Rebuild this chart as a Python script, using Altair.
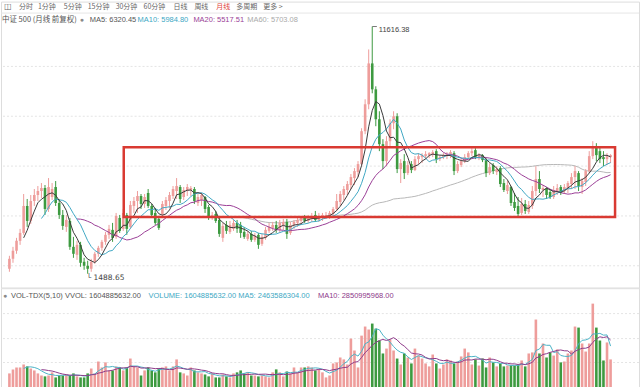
import altair as alt
import pandas as pd

# ---------------- data (monthly candles, CSI 500) ----------------
opens = [1692, 2100, 2427, 2836, 3162, 4265, 3652, 4469, 4714, 4877,
         5000, 4142, 4632, 5041, 4387, 3897, 3407, 3652, 2590, 2264,
         2672, 1978, 1815, 1692, 1978, 2305, 2550, 2795, 3081, 3285,
         2999, 3775, 3326, 3897, 3407, 4265, 4469, 4673, 4347, 4796,
         4265, 3979, 3734, 3938, 4265, 4469, 4673, 4877, 5041, 4632,
         4877, 4918, 4959, 4387, 4510, 4632, 4224, 3775, 3938, 3693,
         2958, 3489, 3203, 3326, 3571, 3489, 3203, 2917, 3121, 2876,
         3081, 2713, 2958, 3244, 3366, 3489, 3285, 3489, 3612, 3162,
         3489, 3571, 3652, 3816, 3652, 3734, 3897, 3693, 3816, 3857,
         3857, 3938, 4142, 4428, 4714, 4918, 5122, 5408, 5653, 5980,
         7328, 8430, 10105, 9043, 7818, 6797, 6103, 6919, 7655, 7940,
         5776, 6103, 5612, 5980, 5735, 6184, 6266, 6307, 6348, 6388,
         6511, 6184, 6266, 6307, 6388, 6429, 5694, 5939, 6103, 6266,
         6429, 6552, 6225, 6348, 6143, 5612, 5939, 5653, 5817, 5204,
         4877, 5041, 4428, 4265, 3979, 4347, 4020, 4265, 4877, 5368,
         4918, 5000, 4837, 4632, 4877, 5041, 4877, 5000, 5163, 5449,
         5612, 5041, 5245, 5694, 6307, 6674, 6511, 6266, 6184, 6266]

highs = [2223, 2590, 2958, 3326, 4755, 4551, 4714, 4959, 5082, 5204,
         5122, 5408, 5204, 5286, 4551, 4101, 3897, 3775, 2999, 2836,
         2795, 2141, 2019, 2100, 2386, 2631, 2876, 3203, 3489, 3571,
         3979, 3897, 4142, 3979, 4469, 4632, 4877, 4755, 4755, 4959,
         4347, 4183, 3857, 4469, 4632, 4837, 5082, 5408, 5122, 5041,
         5163, 5082, 5041, 4755, 4796, 4673, 4306, 4020, 4061, 3816,
         3571, 3652, 3652, 3693, 3693, 3612, 3407, 3244, 3244, 3162,
         3162, 3121, 3407, 3571, 3612, 3652, 3693, 3734, 3734, 3612,
         3693, 3816, 3857, 3897, 3897, 3979, 4061, 3979, 3979, 4020,
         4061, 4224, 4755, 4877, 5082, 5286, 5572, 5817, 6103, 7450,
         8635, 10677, 11616.38, 9166, 8145, 7001, 7124, 7818, 8145, 8063,
         6184, 6388, 6103, 6103, 6307, 6429, 6429, 6511, 6470, 6552,
         6593, 6348, 6429, 6470, 6552, 6511, 6103, 6225, 6388, 6511,
         6633, 6633, 6429, 6388, 6225, 6021, 6021, 5898, 5898, 5368,
         5286, 5082, 4796, 4632, 4592, 4510, 4469, 5082, 5898, 5694,
         5122, 5041, 4918, 5082, 5163, 5122, 5163, 5286, 5612, 5898,
         5694, 5408, 5776, 6511, 6919, 6838, 6715, 6511, 6429, 6388]

lows = [1569, 1937, 2305, 2672, 3081, 3407, 3530, 4265, 4469, 4592,
        3897, 4020, 4510, 4265, 3734, 3285, 3203, 2468, 2141, 2059,
        1774, 1651, 1488.65, 1569, 1896, 2182, 2427, 2672, 2917, 2795,
        2917, 3162, 3244, 3081, 3326, 3979, 3979, 4142, 4183, 4183,
        3816, 3489, 3285, 3857, 4101, 4183, 4551, 4551, 4387, 4510,
        4673, 4673, 4347, 4265, 4265, 3979, 3693, 3693, 3571, 2999,
        2795, 3121, 3121, 3244, 3162, 2958, 2917, 2836, 2795, 2795,
        2509, 2631, 2876, 3162, 3244, 3162, 3162, 3285, 2917, 3081,
        3326, 3407, 3489, 3571, 3571, 3612, 3612, 3612, 3652, 3734,
        3734, 3857, 4061, 4265, 4510, 4714, 4959, 5122, 5449, 5898,
        7205, 8226, 8880, 7532, 6511, 5776, 5898, 6715, 7409, 5612,
        5204, 5368, 5531, 5612, 5694, 5980, 6021, 6184, 6225, 6266,
        6021, 6103, 6184, 6184, 6225, 5531, 5612, 5857, 6021, 6184,
        6307, 6184, 6143, 6062, 5449, 5531, 5572, 5531, 5041, 4837,
        4755, 4265, 4061, 3816, 3897, 3938, 3938, 4142, 4673, 4796,
        4632, 4551, 4551, 4551, 4714, 4714, 4755, 4796, 4959, 4959,
        4877, 4755, 5082, 5612, 6184, 6103, 6021, 5898, 5939, 6021]

closes = [2100, 2427, 2836, 3162, 4265, 3652, 4469, 4714, 4877, 5000,
          4142, 5041, 4959, 4387, 3897, 3448, 3693, 2590, 2305, 2672,
          1937, 1815, 1692, 1978, 2305, 2550, 2795, 3081, 3326, 2958,
          3857, 3244, 3979, 3326, 4306, 4469, 4673, 4347, 4632, 4265,
          3897, 3571, 3366, 4347, 4510, 4714, 4959, 5082, 4551, 4918,
          5041, 5000, 4469, 4632, 4714, 4142, 3816, 3897, 3652, 3121,
          3448, 3244, 3489, 3571, 3326, 3162, 2999, 3121, 2876, 3040,
          2672, 2999, 3285, 3407, 3489, 3285, 3571, 3612, 3121, 3489,
          3612, 3693, 3775, 3652, 3775, 3857, 3693, 3857, 3897, 3897,
          3979, 4142, 4469, 4755, 4959, 5163, 5449, 5694, 5980, 7328,
          8430, 10105, 9043, 7818, 6797, 6103, 6919, 7655, 7940, 5776,
          6021, 5612, 5939, 5735, 6184, 6307, 6348, 6388, 6429, 6470,
          6184, 6266, 6348, 6388, 6470, 5694, 5980, 6103, 6266, 6429,
          6511, 6266, 6348, 6143, 5612, 5857, 5694, 5776, 5163, 4918,
          5122, 4387, 4183, 3938, 4347, 4061, 4306, 4877, 5368, 4959,
          5000, 4714, 4632, 4918, 5000, 4837, 5041, 5204, 5449, 5694,
          5082, 5286, 5694, 6307, 6674, 6348, 6184, 6184, 6307, 6348]

# monthly volume, in units of 1e8 shares
volumes = [8.0, 10.3, 11.4, 11.4, 13.1, 12.0, 10.8, 9.7, 8.0, 6.8,
           6.3, 6.8, 8.6, 5.7, 6.8, 6.8, 7.4, 6.8, 8.0, 6.3,
           5.7, 5.7, 8.0, 10.8, 8.0, 14.8, 11.4, 14.3, 9.7, 9.7,
           12.0, 11.4, 9.7, 11.4, 16.5, 12.0, 11.4, 6.8, 9.7, 11.4,
           9.7, 8.6, 10.8, 11.4, 12.0, 9.7, 12.0, 16.0, 8.6, 8.0,
           6.8, 11.4, 9.7, 8.6, 8.0, 7.4, 6.3, 8.0, 5.7, 5.7,
           7.4, 6.3, 5.7, 8.0, 8.6, 9.7, 8.0, 8.6, 6.8, 6.8,
           6.3, 6.8, 6.3, 5.7, 8.6, 10.3, 8.6, 6.3, 9.1, 8.0,
           11.4, 8.6, 11.4, 11.4, 12.0, 11.4, 9.7, 10.3, 8.6, 5.7,
           6.8, 13.7, 14.3, 17.1, 16.0, 13.1, 27.9, 21.1, 11.4, 29.6,
           34.8, 33.1, 36.5, 33.6, 26.8, 19.4, 22.2, 27.4, 21.1, 16.5,
           13.1, 19.4, 17.1, 13.7, 22.2, 18.2, 16.5, 13.7, 12.0, 18.8,
           13.7, 10.8, 13.1, 16.0, 15.4, 13.7, 14.8, 17.7, 22.2, 20.0,
           13.1, 16.0, 12.5, 16.5, 11.4, 17.1, 14.3, 12.0, 13.7, 12.0,
           12.5, 12.5, 12.5, 13.1, 15.4, 12.0, 19.4, 20.0, 38.8, 19.4,
           25.1, 17.1, 20.0, 18.2, 21.7, 14.3, 14.8, 19.4, 21.1, 34.8,
           34.2, 25.1, 20.5, 25.1, 47.9, 34.2, 26.8, 15.4, 25.7, 16.0]

# annotation box (index range, price range) and grid levels
box_index = [32.14, 170.26]
box_price = [3816, 6674]
price_grid = [9982, 7940, 5898, 3857, 1815]
volume_grid = [42.2, 27.9, 14.25]

# header texts
tabs = ["分时", "1分钟", "5分钟", "15分钟", "30分钟", "60分钟", "日线", "周线", "月线", "多周期", "更多 >"]
tab_x = [18, 37, 63, 87, 115, 143, 173, 194, 216, 236, 263]
title_text = "中证 500 (月线 前复权)"
ma_texts = ["MA5: 6320.45", "MA10: 5984.80", "MA20: 5517.51", "MA60: 5703.08"]
vol_texts = ["VOL-TDX(5,10) VVOL: 1604885632.00",
             "VOLUME: 1604885632.00 MA5: 2463586304.00",
             "MA10: 2850995968.00"]

# ---------------- styling ----------------
RED = "#ee9d9b"
GREEN = "#3d9a40"
C_MA5 = "#3a3a3a"
C_MA10 = "#40a8c4"
C_MA20 = "#9b3f97"
C_MA60 = "#b8b8b8"
BOX = "#d93a32"
W, TOP_H, BOT_H = 640, 287, 100
CJK = "Noto Sans CJK SC"
LAT = "Liberation Sans"

n = len(closes)
df = pd.DataFrame({"i": list(range(n)), "o": opens, "h": highs, "l": lows,
                   "c": closes, "v": volumes})
df["dir"] = ["up" if c >= o else "down" for o, c in zip(opens, closes)]
for w in (5, 10, 20, 60):
    df[f"ma{w}"] = df["c"].rolling(w).mean()
df["vma5"] = df["v"].rolling(5).mean()
df["vma10"] = df["v"].rolling(10).mean()

xs = alt.Scale(domain=[-0.9655, 175.59], nice=False, zero=False)
ys = alt.Scale(domain=[916.3, 12637], nice=False, zero=False)
vs = alt.Scale(domain=[0, 57], nice=False, zero=True)
col = alt.Color("dir:N", scale=alt.Scale(domain=["up", "down"], range=[RED, GREEN]), legend=None)
X = alt.X("i:Q", scale=xs, axis=None)

one = alt.Data(values=[{}])


def txt(t, x, y, color, size=7.5, font=LAT, align="left"):
    return alt.Chart(one).mark_text(text=t, align=align, baseline="middle", fontSize=size,
                                    font=font, color=color).encode(x=alt.value(x), y=alt.value(y))


def hline(y, color="#e2e2e2"):
    return alt.Chart(one).mark_rule(color=color, strokeWidth=1).encode(
        x=alt.value(0), x2=alt.value(W), y=alt.value(y))


base = alt.Chart(df)

# ---------------- price panel ----------------
grid = alt.Chart(pd.DataFrame({"g": price_grid})).mark_rule(
    color="#e4e4e4", strokeDash=[2, 2], strokeWidth=1).encode(y=alt.Y("g:Q", scale=ys, axis=None))

ma_lines = []
for name, c in (("ma60", C_MA60), ("ma20", C_MA20), ("ma10", C_MA10), ("ma5", C_MA5)):
    ma_lines.append(base.mark_line(color=c, strokeWidth=1).encode(
        X, alt.Y(f"{name}:Q", scale=ys, axis=None)))

wicks = base.mark_rule(strokeWidth=1).encode(X, alt.Y("l:Q", scale=ys, axis=None), alt.Y2("h:Q"), col)
bodies = base.mark_bar(size=2.6).encode(X, alt.Y("o:Q", scale=ys, axis=None), alt.Y2("c:Q"), col)

box = alt.Chart(pd.DataFrame({"x1": [box_index[0]], "x2": [box_index[1]],
                              "y1": [box_price[0]], "y2": [box_price[1]]})).mark_rect(
    fillOpacity=0, stroke=BOX, strokeWidth=2.5).encode(
    x=alt.X("x1:Q", scale=xs, axis=None), x2="x2:Q",
    y=alt.Y("y1:Q", scale=ys, axis=None), y2="y2:Q")

pk = df.loc[[df["h"].idxmax()], ["i", "h"]].copy()
pk["i2"] = pk["i"] + 1.3
pk["label"] = [f"{v:.2f}" for v in pk["h"]]
peak_rule = alt.Chart(pk).mark_rule(color="#777", strokeWidth=1).encode(
    x=alt.X("i:Q", scale=xs, axis=None), x2="i2:Q", y=alt.Y("h:Q", scale=ys, axis=None))
peak_text = alt.Chart(pk).mark_text(align="left", baseline="middle", dx=2, dy=3, fontSize=7.5,
                                     font=LAT, color="#444").encode(
    x=alt.X("i2:Q", scale=xs, axis=None), y=alt.Y("h:Q", scale=ys, axis=None), text="label:N")

lo = df.loc[[df["l"].idxmin()], ["i", "l"]].copy()
lo["label"] = [f"└ {v:.2f}" for v in lo["l"]]
low_text = alt.Chart(lo).mark_text(align="left", baseline="middle", dx=-1, dy=4, fontSize=7.5,
                                    font="DejaVu Sans", color="#444").encode(
    x=alt.X("i:Q", scale=xs, axis=None), y=alt.Y("l:Q", scale=ys, axis=None), text="label:N")

head = [hline(11.5, "#e6e6e6"), txt("◫", 3, 5, "#666", size=8, font="DejaVu Sans")]
for t, x in zip(tabs, tab_x):
    head.append(txt(t, x, 5, "#e0413a" if t == "月线" else "#666", size=7, font=CJK))
head.append(txt(title_text, 1, 18, "#555", size=7.5, font=CJK))
head.append(txt("●", 79, 18, "#8a8a8a", size=7))
for t, x, c in zip(ma_texts, [89, 137, 193, 247], ["#555", C_MA10, C_MA20, "#aaa"]):
    head.append(txt(t, x, 18, c))

top = alt.layer(grid, *ma_lines[:1], wicks, bodies, *ma_lines[1:], box,
                peak_rule, peak_text, low_text, *head).properties(width=W, height=TOP_H)

# ---------------- volume panel ----------------
vgrid = alt.Chart(pd.DataFrame({"g": volume_grid})).mark_rule(
    color="#e4e4e4", strokeDash=[2, 2], strokeWidth=1).encode(y=alt.Y("g:Q", scale=vs, axis=None))
vbars = base.mark_bar(size=2.6).encode(X, alt.Y("v:Q", scale=vs, axis=None), col)
vma5 = base.mark_line(color="#4bb3c6", strokeWidth=1).encode(X, alt.Y("vma5:Q", scale=vs, axis=None))
vma10 = base.mark_line(color="#8e3a8a", strokeWidth=1).encode(X, alt.Y("vma10:Q", scale=vs, axis=None))
vhead = [hline(1, "#e2e2e2"), txt("●", 2, 8, "#8a8a8a", size=7),
         txt(vol_texts[0], 10, 8, "#555"),
         txt(vol_texts[1], 148, 8, C_MA10),
         txt(vol_texts[2], 318, 8, "#8e3a8a")]

bottom = alt.layer(vgrid, vbars, vma5, vma10, *vhead).properties(width=W, height=BOT_H)

chart = alt.vconcat(top, bottom, spacing=0, padding=0, bounds="flush").configure_view(
    stroke=None).configure(background="white")

chart.save("out.html", embed_options={"renderer": "svg", "actions": False})
